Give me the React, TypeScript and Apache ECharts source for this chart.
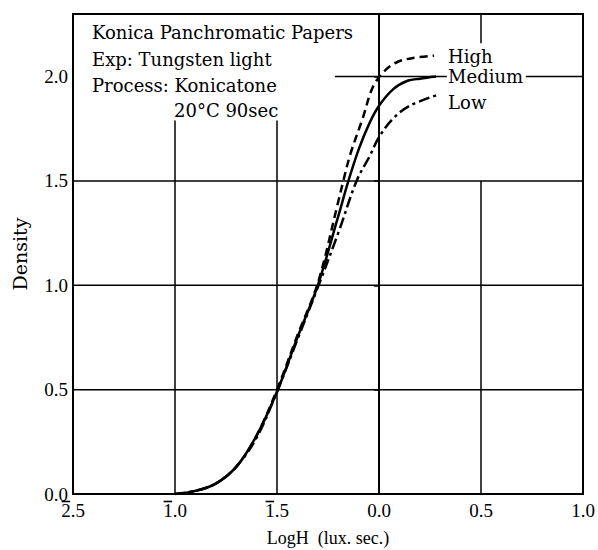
import React, { useEffect, useRef } from "react";
import * as echarts from "echarts";

const xTickValues = [-1.5, -1.0, -0.5, 0.0, 0.5, 1.0];
const xTickLabels = ["2.5", "1.0", "1.5", "0.0", "0.5", "1.0"];
// characteristic carries a bar (negative log characteristic) for these ticks
const xTickBarred = [true, true, true, false, false, false];
const yTickValues = [0, 0.5, 1.0, 1.5, 2.0];
const yTickLabels = ["0.0", "0.5", "1.0", "1.5", "2.0"];

const highData: [number, number][] = [
  [-1.0, 0.0], [-0.9, 0.015], [-0.8, 0.05], [-0.7, 0.13], [-0.6, 0.28], [-0.5, 0.5],
  [-0.4, 0.76], [-0.3, 1.01], [-0.2, 1.4], [-0.175, 1.5], [-0.14, 1.63], [-0.08, 1.8],
  [-0.03, 1.95], [0.03, 2.03], [0.09, 2.07], [0.17, 2.09], [0.27, 2.1],
];
const mediumData: [number, number][] = [
  [-1.0, 0.0], [-0.9, 0.015], [-0.8, 0.05], [-0.7, 0.13], [-0.6, 0.28], [-0.5, 0.49],
  [-0.4, 0.75], [-0.3, 1.0], [-0.2, 1.33], [-0.15, 1.5], [-0.1, 1.65], [-0.05, 1.77],
  [0.0, 1.86], [0.07, 1.94], [0.14, 1.98], [0.2, 1.99], [0.28, 2.0],
];
const lowData: [number, number][] = [
  [-1.0, 0.0], [-0.9, 0.015], [-0.8, 0.05], [-0.7, 0.13], [-0.6, 0.27], [-0.5, 0.49],
  [-0.4, 0.74], [-0.3, 0.99], [-0.2, 1.25], [-0.11, 1.5], [-0.045, 1.62], [0.0, 1.71],
  [0.07, 1.8], [0.15, 1.86], [0.28, 1.91],
];

const gridSegments: [number, number][][] = [
  [[-1.0, 0], [-1.0, 1.79]],
  [[-0.5, 0], [-0.5, 1.79]],
  [[0, 0], [0, 2.3]],
  [[0.5, 0], [0.5, 1.5]],
  [[0.5, 2.16], [0.5, 2.3]],
  [[-1.5, 0.5], [1.0, 0.5]],
  [[-1.5, 1.0], [1.0, 1.0]],
  [[-1.5, 1.5], [1.0, 1.5]],
  [[-0.216, 2.0], [0.333, 2.0]],
  [[0.72, 2.0], [1.0, 2.0]],
];

const noteLines = [
  "Konica Panchromatic Papers",
  "Exp: Tungsten light",
  "Process: Konicatone",
  "20°C 90sec",
];

function measure(text: string, font: string, fallback: number): number {
  try {
    const ctx = document.createElement("canvas").getContext("2d");
    if (!ctx) return fallback;
    ctx.font = font;
    return ctx.measureText(text).width;
  } catch (e) {
    return fallback;
  }
}

export default function App() {
  const ref = useRef<HTMLDivElement>(null);
  useEffect(() => {
    if (!ref.current) return;
    const chart = echarts.init(ref.current, undefined, { renderer: "svg" });
    const serif = '"DejaVu Serif", serif';
    const tickFont = '"Liberation Serif", serif';
    const tickSize = 19;

    const gridSeries = gridSegments.map((seg, i) => ({
      type: "line",
      name: "grid" + i,
      data: seg,
      symbol: "none",
      silent: true,
      lineStyle: { color: "#000", width: 1.5 },
      z: 1,
    }));

    const curve = (name: string, data: [number, number][], dash: any, offsetY: number, dist: number) => ({
      type: "line",
      name,
      data,
      symbol: "none",
      smooth: 0.35,
      lineStyle: { color: "#000", width: 2.5, type: dash },
      endLabel: {
        show: true,
        formatter: "{a}",
        fontFamily: serif,
        fontSize: 18,
        color: "#000",
        distance: dist,
        offset: [0, offsetY],
      },
      z: 3,
    });

    const noteX = [92, 92, 92, 174];
    const noteY = [32, 59, 85, 110];
    const notes = noteLines.map((t, i) => ({
      id: "note" + i,
      type: "text",
      x: noteX[i],
      y: noteY[i],
      style: {
        text: t,
        font: '18px "DejaVu Serif", serif',
        fill: "#000",
        verticalAlign: "middle",
      },
      z: 10,
    }));

    chart.setOption({
      animation: false,
      backgroundColor: "#fff",
      grid: {
        left: 73,
        right: 15,
        top: 14,
        bottom: 56,
        show: true,
        borderColor: "#000",
        borderWidth: 2,
        containLabel: false,
        outerBoundsMode: "none",
      },
      xAxis: {
        type: "value",
        min: -1.5,
        max: 1.0,
        interval: 0.5,
        name: "LogH  (lux. sec.)",
        nameLocation: "middle",
        nameGap: 35,
        nameTextStyle: { fontFamily: tickFont, fontSize: 18, color: "#000" },
        axisLine: { show: true, lineStyle: { color: "#000", width: 2 } },
        axisTick: { show: false },
        splitLine: { show: false },
        axisLabel: {
          fontFamily: tickFont,
          fontSize: tickSize,
          color: "#000",
          margin: 7,
          formatter: (v: number) => {
            const i = xTickValues.findIndex((t) => Math.abs(t - v) < 1e-6);
            return i >= 0 ? xTickLabels[i] : "";
          },
        },
      },
      yAxis: {
        type: "value",
        min: 0,
        max: 2.3,
        name: "Density",
        nameLocation: "middle",
        nameRotate: 90,
        nameGap: 44,
        nameTextStyle: { fontFamily: serif, fontSize: 19, color: "#000" },
        axisLine: { show: true, lineStyle: { color: "#000", width: 2 } },
        axisTick: { show: true, length: 5, customValues: yTickValues, lineStyle: { color: "#000", width: 1.5 } },
        splitLine: { show: false },
        axisLabel: {
          customValues: yTickValues,
          fontFamily: tickFont,
          fontSize: tickSize,
          color: "#000",
          margin: 5,
          formatter: (v: number) => yTickLabels[yTickValues.indexOf(v)] ?? "",
        },
      },
      series: [
        ...gridSeries,
        curve("High", highData, [8, 5], 1, 14),
        curve("Medium", mediumData, "solid", 0, 12),
        curve("Low", lowData, [11, 4, 3, 4], 7, 12),
      ],
    });

    // bars over the negative characteristics, placed from the axis scale
    const font = tickSize + 'px "Liberation Serif", serif';
    const y0 = chart.convertToPixel({ yAxisIndex: 0 }, 0) as number;
    const bars: any[] = [];
    xTickValues.forEach((v, i) => {
      if (!xTickBarred[i]) return;
      const cx = chart.convertToPixel({ xAxisIndex: 0 }, v) as number;
      const full = measure(xTickLabels[i], font, tickSize * 1.25);
      const digit = measure(xTickLabels[i][0], font, tickSize * 0.5);
      const left = cx - full / 2;
      bars.push({
        id: "bar" + i,
        type: "line",
        shape: { x1: left + 0.5, y1: y0 + 7.5, x2: left + digit - 0.5, y2: y0 + 7.5 },
        style: { stroke: "#000", lineWidth: 1.6 },
        z: 10,
      });
    });
    chart.setOption({ graphic: [...notes, ...bars] });

    return () => chart.dispose();
  }, []);
  return (
    <div
      ref={ref}
      style={{ position: "fixed", left: 0, top: 0, width: 598, height: 550 }}
    />
  );
}
